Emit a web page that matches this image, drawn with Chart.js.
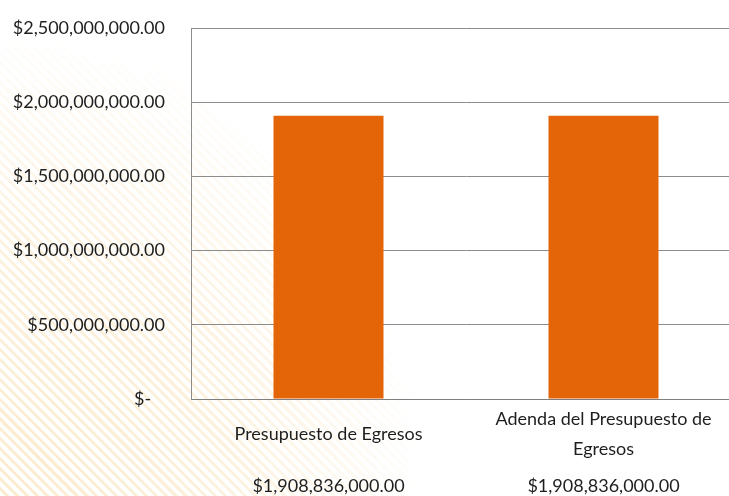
<!DOCTYPE html>
<html>
<head>
<meta charset="utf-8">
<script src="https://cdn.jsdelivr.net/npm/chart.js@4.4.0/dist/chart.umd.min.js"></script>
<style>
    html, body { margin: 0; padding: 0; width: 729px; height: 496px; overflow: hidden; }
    body {
        background:
            radial-gradient(ellipse 430px 470px at 0% 100%, rgba(255,255,255,0.15) 0%, rgba(255,255,255,0.45) 55%, #fff 100%),
            repeating-linear-gradient(45deg, #fff 0px, #fff 4px, #fbe8c6 4px, #fbe8c6 7px);
    }
    #wrap { position: relative; width: 741px; height: 496px; }
</style>
</head>
<body>
<div id="wrap"><canvas id="budgetChart" width="741" height="496"></canvas></div>
<script>
// category names (wrapped lines) and amounts
const categories = [['Presupuesto de Egresos'], ['Adenda del Presupuesto de', 'Egresos']];
const amounts = [1908836000, 1908836000];
const yTicks = [0, 500000000, 1000000000, 1500000000, 2000000000, 2500000000];

const FONT = 'Lato, "Open Sans", sans-serif';
const TEXT = '#1e1e1e';

function money(v) {
    if (v === 0) return '$-   ';
    return '$' + v.toLocaleString('en-US', { minimumFractionDigits: 2, maximumFractionDigits: 2 });
}

// draws the category names and their amounts under the axis
const categoryText = {
    id: 'categoryText',
    afterDraw(chart) {
        const ctx = chart.ctx;
        const x = chart.scales.x;
        ctx.save();
        ctx.fillStyle = TEXT;
        ctx.font = '18px ' + FONT;
        ctx.textAlign = 'center';
        ctx.textBaseline = 'middle';
        categories.forEach(function(lines, i) {
            const cx = x.getPixelForValue(i);
            const lh = 30;
            const top = 434 - (lines.length - 1) * lh / 2;
            lines.forEach(function(line, j) {
                ctx.fillText(line, cx, top + j * lh);
            });
            ctx.fillText(money(amounts[i]), cx, 486);
        });
        ctx.restore();
    }
};

new Chart(document.getElementById('budgetChart').getContext('2d'), {
    type: 'bar',
    data: {
        labels: categories.map(function(c) { return c.join(' '); }),
        datasets: [{
            data: amounts,
            backgroundColor: '#e46408',
            barPercentage: 0.4,
            categoryPercentage: 1.0
        }]
    },
    options: {
        responsive: false,
        animation: false,
        layout: { padding: { top: 28, right: 0, bottom: 0, left: 0 } },
        plugins: { legend: { display: false }, tooltip: { enabled: false } },
        scales: {
            x: {
                grid: { display: false },
                border: { display: true, color: '#7f7f7f', width: 1 },
                ticks: { display: false },
                afterFit: function(scale) { scale.height = 97; }
            },
            y: {
                min: 0,
                max: 2500000000,
                afterBuildTicks: function(scale) {
                    scale.ticks = yTicks.map(function(v) { return { value: v }; });
                },
                grid: { color: '#8c8c8c', lineWidth: 1, drawTicks: false },
                border: { display: true, color: '#8c8c8c', width: 1 },
                ticks: {
                    padding: 26,
                    color: TEXT,
                    font: { family: FONT, size: 18 },
                    callback: function(v) { return money(v); }
                },
                afterFit: function(scale) {
                    scale.width = 191;
                    scale.paddingTop = 0;
                    scale.paddingBottom = 0;
                }
            }
        }
    },
    plugins: [categoryText]
});
</script>
</body>
</html>
